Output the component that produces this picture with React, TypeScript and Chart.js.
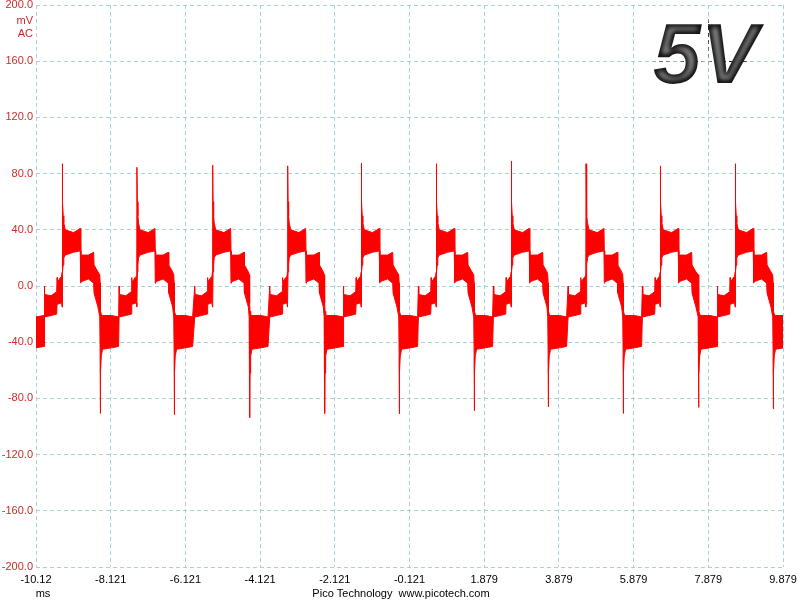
import React, { useEffect, useRef } from "react";
import { Chart, registerables } from "chart.js";

Chart.register(...registerables);

// ---- axis ticks ----
const xTickValues = [-10.121, -8.121, -6.121, -4.121, -2.121, -0.121, 1.879, 3.879, 5.879, 7.879, 9.879];
const xTickLabels = ["-10.12", "-8.121", "-6.121", "-4.121", "-2.121", "-0.121", "1.879", "3.879", "5.879", "7.879", "9.879"];
const yTickValues = [-200, -160, -120, -80, -40, 0, 40, 80, 120, 160, 200];
const yTickLabels = ["-200.0", "-160.0", "-120.0", "-80.0", "-40.0", "0.0", "40.0", "80.0", "120.0", "160.0", "200.0"];

// ---- per-cycle events (ms, mV) ----
const spikeTimes = [-9.417, -7.417, -5.39, -3.382, -1.411, 0.597, 2.605, 4.605, 6.594, 8.602];
const spikePeaks = [87, 84.5, 86, 85.5, 87.4, 87, 89, 87, 85.5, 87];
const spikeDips = [-13, -14, -12, -15, -13, -12, -14, -13, -12, -14];
const negTimes = [-8.399, -6.418, -4.399, -2.391, -0.394, 1.614, 3.595, 5.603, 7.622, 9.619];
const negLows = [-90.7, -91.6, -93.6, -90.7, -91, -88.8, -86, -90.7, -86.4, -87.6];

// ---- trace envelope (upper / lower edge of the noisy band) ----
const leadTimes = [-10.121, -9.905];
const leadUpper = [-22, -21];
const leadLower = [-44, -43];

// relative to each positive spike (ms)
const riseOffsets = [-0.48, -0.47, -0.3, -0.15, -0.14, -0.13, -0.02, -0.006];
const riseUpper = [0, -6, -7, -4, 6, 3, 7, 10];
const riseLower = [-22, -22, -21, -20, -13, -13, -12, -15];
const crestOffsets = [0.01, 0.025, 0.04, 0.08, 0.3, 0.48, 0.49, 0.5, 0.7, 0.84, 0.85, 0.955];
const crestUpper = [60, 50, 45, 40, 38, 41, 25, 22, 22, 24, 15, 10];
const crestLower = [10, 15, 20, 22, 24, 25, 2, 3, 5, 2, -5, -15];

// relative to each negative spike (ms)
const fallPreOffsets = [-0.015, -0.004];
const fallPreUpper = [8, 2];
const fallPreLower = [-22, -50];
const fallSpikeUpper = -12;
const fallPostOffsets = [0.008, 0.025, 0.06, 0.3, 0.49];
const fallPostUpper = [-18, -20, -21, -21, -22];
const fallPostLower = [-62, -50, -45, -44, -43];

function buildEnvelope() {
  const up: { x: number; y: number }[] = [];
  const lo: { x: number; y: number }[] = [];
  const push = (x: number, u: number, l: number) => {
    up.push({ x, y: u });
    lo.push({ x, y: l });
  };
  leadTimes.forEach((t, j) => push(t, leadUpper[j], leadLower[j]));
  spikeTimes.forEach((s, i) => {
    riseOffsets.forEach((o, j) => push(s + o, riseUpper[j], riseLower[j]));
    push(s, spikePeaks[i], spikeDips[i]);
    crestOffsets.forEach((o, j) => push(s + o, crestUpper[j], crestLower[j]));
    const n = negTimes[i];
    fallPreOffsets.forEach((o, j) => push(n + o, fallPreUpper[j], fallPreLower[j]));
    push(n, fallSpikeUpper, negLows[i]);
    fallPostOffsets.forEach((o, j) => push(n + o, fallPostUpper[j], fallPostLower[j]));
  });
  return { up, lo };
}

const FONT = '"Liberation Sans", Arial, sans-serif';
const RED_TEXT = "#cc2a2a";
const GRID = "#a6d2de";

const textPlugin = {
  id: "picoText",
  afterDraw(chart: any) {
    const ctx = chart.ctx as CanvasRenderingContext2D;
    ctx.save();
    ctx.font = `11px ${FONT}`;
    ctx.textBaseline = "alphabetic";
    ctx.fillStyle = RED_TEXT;
    ctx.textAlign = "right";
    ctx.fillText("mV", 33, 24);
    ctx.fillText("AC", 33, 36.5);
    ctx.fillStyle = "#000";
    ctx.textAlign = "center";
    ctx.fillText("ms", 43, 597);
    ctx.fillText("Pico Technology  www.picotech.com", 401, 597);
    ctx.restore();

    // big "5V" with a dark-edged, lighter-core look
    ctx.save();
    ctx.font = `italic bold 86px ${FONT}`;
    ctx.textAlign = "left";
    ctx.textBaseline = "alphabetic";
    const x0 = 653;
    const y0 = 83;
    ctx.fillStyle = "#0e0e0e";
    ctx.fillText("5V", x0, y0);
    ctx.globalCompositeOperation = "source-atop";
    (ctx as any).filter = "blur(2.5px)";
    ctx.fillStyle = "#8e8e8e";
    ctx.fillText("5V", x0 - 1, y0 - 1);
    ctx.strokeStyle = "#0e0e0e";
    ctx.lineJoin = "round";
    ctx.lineWidth = 6;
    ctx.strokeText("5V", x0, y0);
    ctx.restore();
  },
};

export default function App() {
  const ref = useRef<HTMLCanvasElement | null>(null);
  useEffect(() => {
    if (!ref.current) return;
    const { up, lo } = buildEnvelope();
    const chart = new Chart(ref.current, {
      type: "line",
      data: {
        datasets: [
          {
            label: "upper",
            data: up,
            borderColor: "#ff0000",
            borderWidth: 1,
            pointRadius: 0,
            tension: 0,
            fill: false,
          },
          {
            label: "lower",
            data: lo,
            borderColor: "#ff0000",
            backgroundColor: "#ff0000",
            borderWidth: 1,
            pointRadius: 0,
            tension: 0,
            fill: "-1",
          },
        ],
      },
      options: {
        animation: false,
        responsive: false,
        events: [],
        layout: { padding: { top: 5, right: 17, bottom: 0, left: 0 } },
        plugins: { legend: { display: false }, tooltip: { enabled: false } },
        scales: {
          x: {
            type: "linear",
            min: -10.121,
            max: 9.879,
            afterBuildTicks: (s: any) => {
              s.ticks = xTickValues.map((v) => ({ value: v }));
            },
            afterFit: (s: any) => {
              s.height = 33;
              s.paddingLeft = 0;
              s.paddingRight = 0;
            },
            ticks: {
              autoSkip: false,
              maxRotation: 0,
              padding: 6,
              color: "#000",
              font: { family: FONT, size: 11 },
              callback: (_v: any, i: number) => xTickLabels[i],
            },
            grid: { color: GRID, lineWidth: 1, drawTicks: false },
            border: { display: false, dash: [4, 3] },
          },
          y: {
            type: "linear",
            min: -200,
            max: 200,
            afterBuildTicks: (s: any) => {
              s.ticks = yTickValues.map((v) => ({ value: v }));
            },
            afterFit: (s: any) => {
              s.width = 36;
              s.paddingTop = 0;
              s.paddingBottom = 0;
            },
            ticks: {
              autoSkip: false,
              padding: 3,
              color: RED_TEXT,
              font: { family: FONT, size: 11 },
              callback: (_v: any, i: number) => yTickLabels[i],
            },
            grid: { color: GRID, lineWidth: 1, drawTicks: false },
            border: { display: false, dash: [4, 3] },
          },
        },
      },
      plugins: [textPlugin],
    });
    return () => chart.destroy();
  }, []);
  return (
    <div style={{ position: "absolute", left: 0, top: 0, width: 800, height: 600, background: "#fff" }}>
      <canvas ref={ref} width={800} height={600} />
    </div>
  );
}
